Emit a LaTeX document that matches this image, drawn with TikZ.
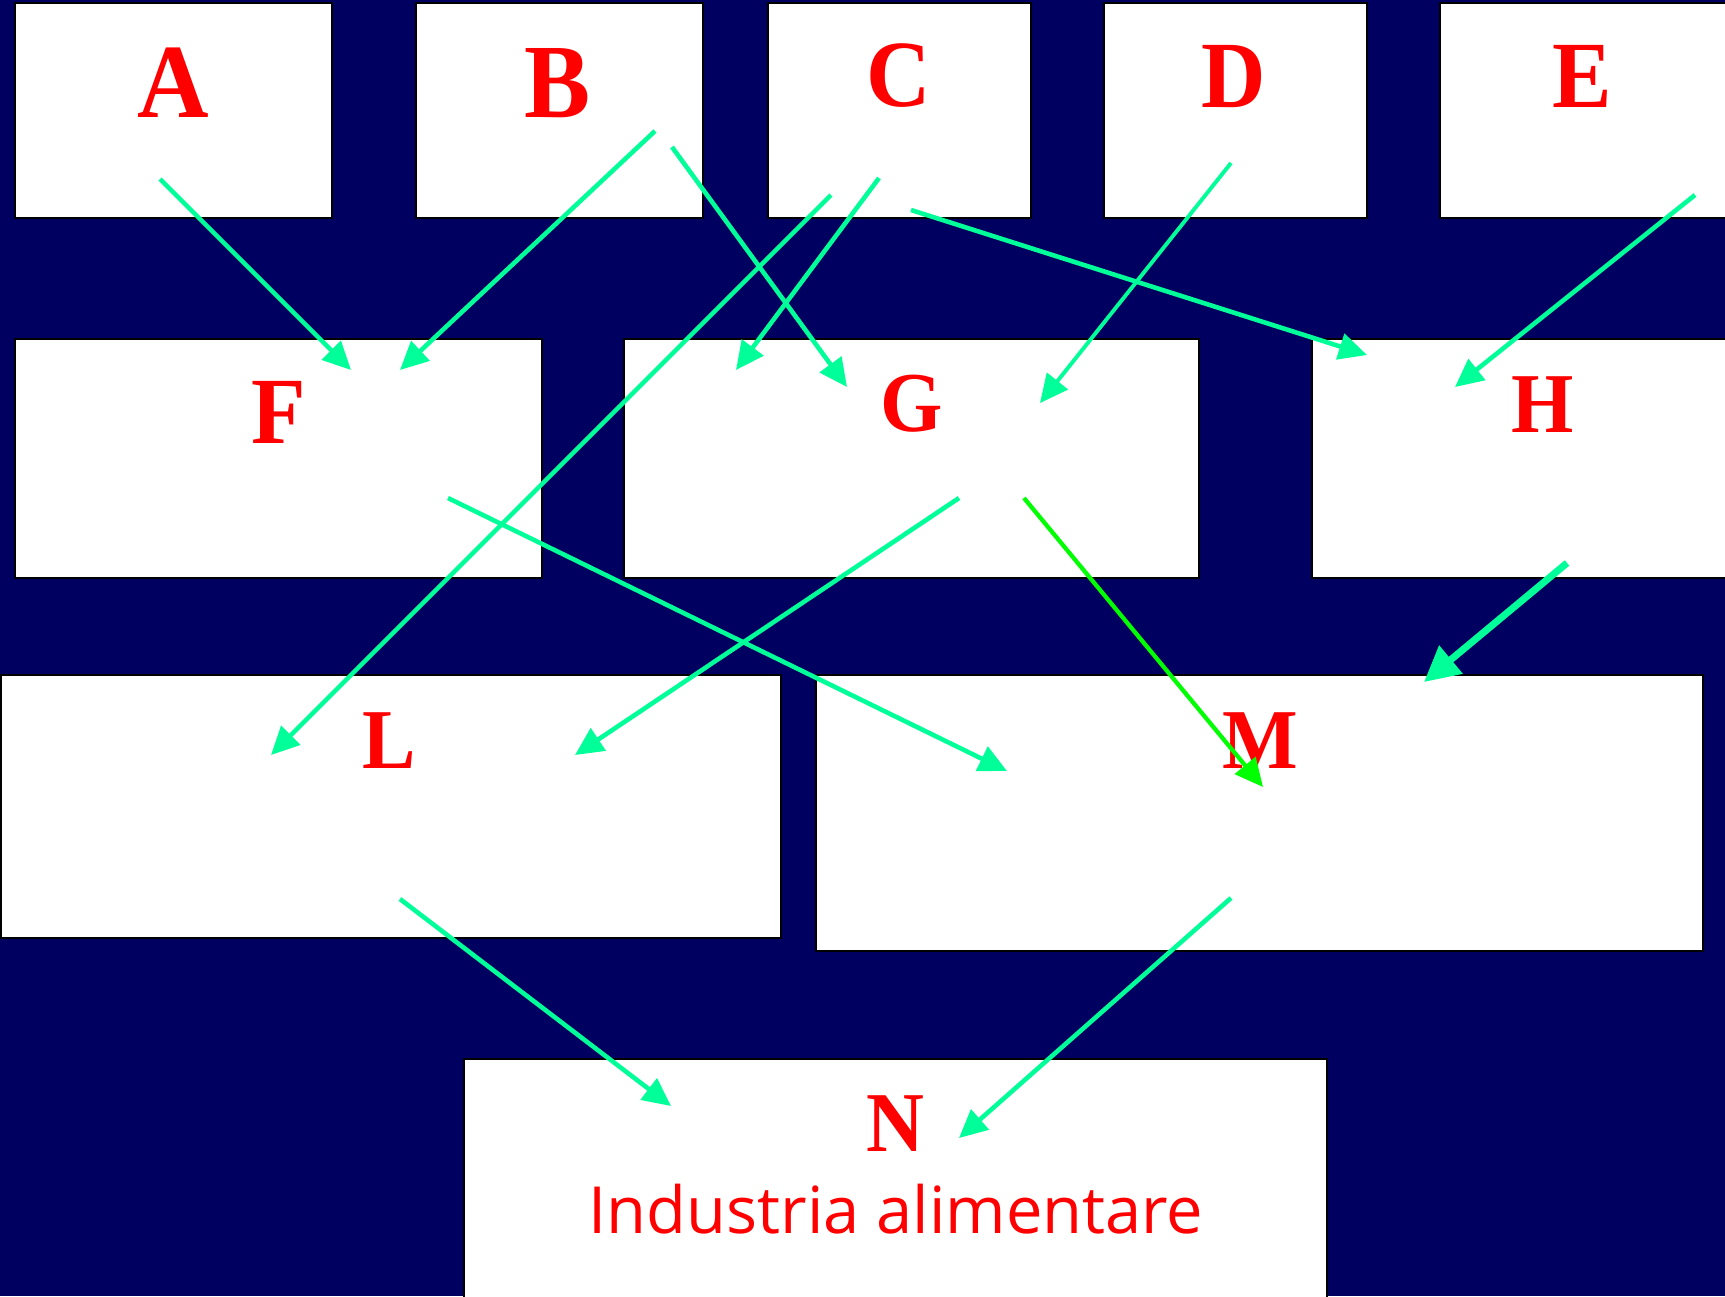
\documentclass[tikz,border=0pt]{standalone}
\usepackage{fontspec}
\setmainfont{Liberation Serif}
\newfontfamily\sansf{Open Sans}
\usetikzlibrary{arrows.meta,fit}
\definecolor{navy}{RGB}{0,0,96}
\definecolor{spring}{RGB}{0,255,153}
\definecolor{lime}{RGB}{0,255,0}
\tikzset{
  box/.style={draw=black, line width=0.8pt, fill=white, inner sep=0pt},
  lab/.style={anchor=base, inner sep=0pt, text=red},
  labA/.style={lab, font=\bfseries\fontsize{60}{60}\selectfont},
  labB/.style={lab, font=\bfseries\fontsize{54}{54}\selectfont},
  labC/.style={lab, font=\bfseries\fontsize{48.5}{48.5}\selectfont},
  arr/.style={draw=spring, line width=2.6pt, -{Triangle[length=16pt,width=15pt]}},
  arrthick/.style={draw=spring, line width=4pt, -{Triangle[length=20pt,width=20pt]}},
  arrlime/.style={draw=lime, line width=2.4pt, -{Triangle[length=16pt,width=15pt]}},
}
\newcommand{\nar}[1]{\scalebox{0.94}[1]{#1}}
\begin{document}
\begin{tikzpicture}[x=0.02cm,y=-0.02cm]
\fill[navy] (0,0) rectangle (1725,1296);
\useasboundingbox (0,0) rectangle (1725,1296);
\clip (0,0) rectangle (1725,1296);
% boxes
\node[box, fit={(15,3) (332,218)}] (A) {};
\node[box, fit={(416,3) (703,218)}] (B) {};
\node[box, fit={(768,3) (1031,218)}] (C) {};
\node[box, fit={(1104,3) (1367,218)}] (D) {};
\node[box, fit={(1440,3) (1745,218)}] (E) {};
\node[box, fit={(15,339) (542,578)}] (F) {};
\node[box, fit={(624,339) (1199,578)}] (G) {};
\node[box, fit={(1312,339) (1745,578)}] (H) {};
\node[box, fit={(1,675) (781,938)}] (L) {};
\node[box, fit={(816,675) (1703,951)}] (M) {};
\node[box, fit={(464,1059) (1327,1310)}] (N) {};
% labels
\node[labA] (Al) at (173,117) {\nar{A}};
\node[labA] (Bl) at (558,117) {\nar{B}};
\node[labB] (Cl) at (899,106) {\nar{C}};
\node[labB] (Dl) at (1234,107) {\nar{D}};
\node[labB] (El) at (1582,107) {\nar{E}};
\node[labB] (Fl) at (279,443) {\nar{F}};
\node[labC] (Gl) at (912,431) {\nar{G}};
\node[labC] (Hl) at (1543,432) {\nar{H}};
\node[labC] (Ll) at (389,768) {\nar{L}};
\node[labC] (Ml) at (1260,768) {\nar{M}};
\node[labC] (Nl) at (895,1151) {\nar{N}};
\node[anchor=base, inner sep=0pt, text=red, font=\sansf\fontsize{37}{37}\selectfont] (Nt) at (896,1233) {Industria alimentare};
% connector end points
\coordinate (A-o) at (160,179);
\coordinate (B-o1) at (655,131);
\coordinate (B-o2) at (672,147);
\coordinate (C-o1) at (831,195);
\coordinate (C-o2) at (879,178);
\coordinate (C-o3) at (911,210);
\coordinate (D-o) at (1231,163);
\coordinate (E-o) at (1695,195);
\coordinate (F-i1) at (351,370);
\coordinate (F-i2) at (400,370);
\coordinate (F-o) at (448,498);
\coordinate (G-i1) at (847,387);
\coordinate (G-i2) at (736,370);
\coordinate (G-i3) at (1040,403);
\coordinate (G-o1) at (959,498);
\coordinate (G-o2) at (1024,498);
\coordinate (H-i1) at (1367,355);
\coordinate (H-i2) at (1455,387);
\coordinate (H-o) at (1567,563);
\coordinate (L-i1) at (271,755);
\coordinate (L-i2) at (575,755);
\coordinate (L-o) at (400,899);
\coordinate (M-i1) at (1007,771);
\coordinate (M-i2) at (1263,787);
\coordinate (M-i3) at (1424,682);
\coordinate (M-o) at (1231,898);
\coordinate (N-i1) at (671,1106);
\coordinate (N-i2) at (959,1138);
% connectors
\draw[arr] (A-o) -- (F-i1);
\draw[arr] (B-o1) -- (F-i2);
\draw[arr] (B-o2) -- (G-i1);
\draw[arr] (C-o1) -- (L-i1);
\draw[arr] (C-o2) -- (G-i2);
\draw[arr] (C-o3) -- (H-i1);
\draw[arr, line width=2.2pt] (D-o) -- (G-i3);
\draw[arr] (E-o) -- (H-i2);
\draw[arr] (F-o) -- (M-i1);
\draw[arr] (G-o1) -- (L-i2);
\draw[arrlime] (G-o2) -- (M-i2);
\draw[arrthick] (H-o) -- (M-i3);
\draw[arr] (L-o) -- (N-i1);
\draw[arr] (M-o) -- (N-i2);
\end{tikzpicture}
\end{document}
